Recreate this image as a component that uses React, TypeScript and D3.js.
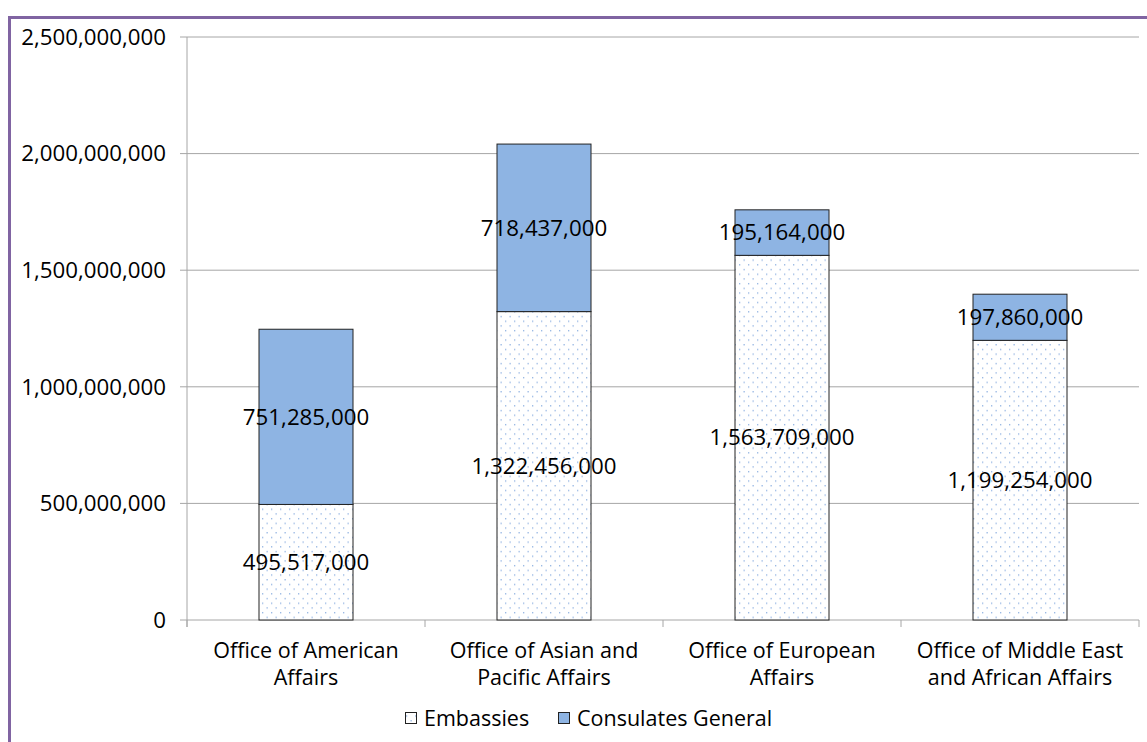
import React from "react";
import * as d3 from "d3";

const categories = [
  ["Office of American", "Affairs"],
  ["Office of Asian and", "Pacific Affairs"],
  ["Office of European", "Affairs"],
  ["Office of Middle East", "and African Affairs"],
];
const embassies = [495517000, 1322456000, 1563709000, 1199254000];
const consulates = [751285000, 718437000, 195164000, 197860000];
const yTicks = [0, 500000000, 1000000000, 1500000000, 2000000000, 2500000000];
const seriesNames = ["Embassies", "Consulates General"];

const W = 1147, H = 742;
const left = 187, right = 1139, top = 37, bottom = 620;
const FONT = "Open Sans, sans-serif";
const BLUE = "#8EB4E3";
const NUM = 22.3;
const TXT = 21.5;

export default function App() {
  const x = d3.scaleBand<number>().domain(d3.range(categories.length)).range([left, right]).paddingInner(0).paddingOuter(0);
  const y = d3.scaleLinear().domain([0, 2500000000]).range([bottom, top]);
  const fmt = d3.format(",");
  const step = x.step();
  const bw = 94;
  return (
    <svg width={W} height={H} style={{ position: "absolute", left: 0, top: 0 }} fontFamily={FONT}>
      <defs>
        <pattern id="dots" width="9" height="9.4" patternUnits="userSpaceOnUse">
          <rect width="9" height="9.4" fill="#fff" />
          <rect x="1" y="1" width="1.3" height="1.3" fill="#8fb2e2" />
          <rect x="5.5" y="5.7" width="1.3" height="1.3" fill="#8fb2e2" />
        </pattern>
      </defs>
      <rect x={0} y={0} width={W} height={H} fill="#fff" />
      <path d={`M9.5,${H} V17.5 H${W}`} fill="none" stroke="#8064A2" strokeWidth={3} />
      {yTicks.map((t) => (
        <g key={t}>
          <line x1={left - 7} x2={right} y1={y(t)} y2={y(t)} stroke="#a6a6a6" strokeWidth={1} />
          <text x={left - 21} y={y(t)} dy="0.35em" textAnchor="end" fontSize={NUM} fill="#000">{fmt(t)}</text>
        </g>
      ))}
      <line x1={left} x2={left} y1={top} y2={bottom + 7} stroke="#a6a6a6" />
      {d3.range(categories.length + 1).map((i) => (
        <line key={i} x1={left + i * step} x2={left + i * step} y1={bottom} y2={bottom + 7} stroke="#a6a6a6" />
      ))}
      {categories.map((c, i) => {
        const cx = (x(i) as number) + step / 2;
        const x0 = cx - bw / 2;
        const e = embassies[i], k = consulates[i];
        return (
          <g key={i}>
            <rect x={x0} y={y(e)} width={bw} height={y(0) - y(e)} fill="url(#dots)" stroke="#222" strokeWidth={1} />
            <rect x={x0} y={y(e + k)} width={bw} height={y(e) - y(e + k)} fill={BLUE} stroke="#222" strokeWidth={1} />
            <text x={cx} y={(y(0) + y(e)) / 2} dy="0.35em" textAnchor="middle" fontSize={NUM}>{fmt(e)}</text>
            <text x={cx} y={(y(e) + y(e + k)) / 2} dy="0.35em" textAnchor="middle" fontSize={NUM}>{fmt(k)}</text>
            {c.map((line, j) => (
              <text key={j} x={cx} y={650 + j * 27} dy="0.35em" textAnchor="middle" fontSize={TXT}>{line}</text>
            ))}
          </g>
        );
      })}
      <rect x={405.5} y={712.5} width={11} height={11} fill="url(#dots)" stroke="#222" />
      <text x={424} y={718} dy="0.35em" fontSize={TXT}>{seriesNames[0]}</text>
      <rect x={558.5} y={712.5} width={11} height={11} fill={BLUE} stroke="#222" />
      <text x={577} y={718} dy="0.35em" fontSize={TXT}>{seriesNames[1]}</text>
    </svg>
  );
}
